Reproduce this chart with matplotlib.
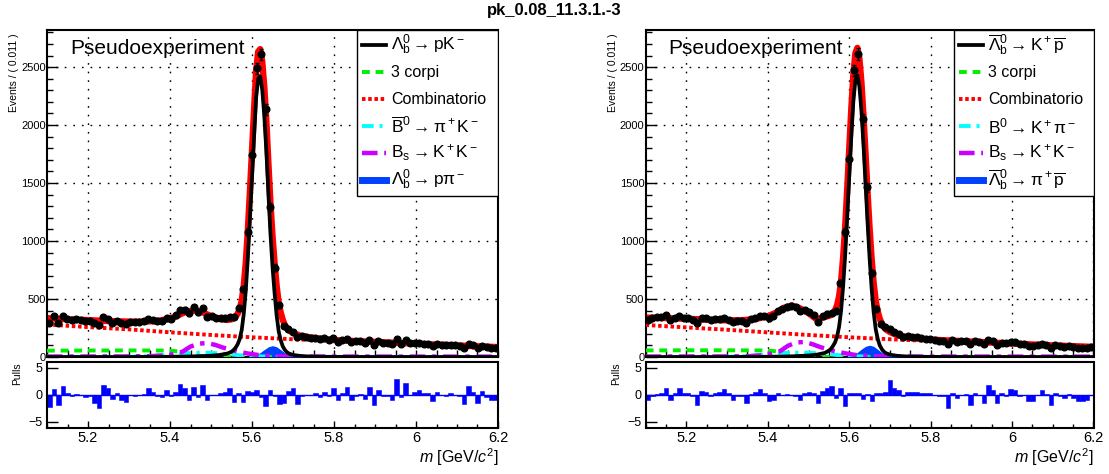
import numpy as np
import matplotlib.pyplot as plt
from matplotlib.patches import Rectangle
from matplotlib.ticker import MultipleLocator

plt.rcParams['font.family'] = ['Liberation Sans', 'DejaVu Sans']
plt.rcParams['mathtext.fontset'] = 'custom'
plt.rcParams['mathtext.rm'] = 'Liberation Sans'
plt.rcParams['mathtext.it'] = 'Liberation Sans:italic'
plt.rcParams['mathtext.bf'] = 'Liberation Sans:bold'

# binning: 100 bins of 0.011 GeV between 5.1 and 6.2
m_lo, m_hi, n_bins = 5.1, 6.2, 100
bin_w = (m_hi - m_lo) / n_bins
bin_centers = m_lo + bin_w * (np.arange(n_bins) + 0.5)

# ---------------- data ----------------
data_pk = [292, 351, 295, 356, 332, 320, 324, 321, 310, 312, 289, 272, 344, 331, 295, 313, 289, 283, 305, 300,
           305, 308, 327, 319, 307, 309, 338, 328, 359, 405, 409, 376, 430, 385, 419, 349, 350, 338, 334, 333,
           341, 345, 420, 583, 1077, 1741, 2488, 2609, 2135, 1293, 770, 448, 267, 240, 215, 172, 177, 173, 167, 168,
           153, 161, 146, 163, 132, 147, 157, 126, 134, 136, 124, 148, 107, 137, 124, 123, 112, 155, 115, 143,
           117, 120, 123, 115, 114, 96, 114, 106, 102, 107, 101, 97, 79, 113, 100, 78, 98, 84, 80, 77]
pulls_pk = [-2.3, 1.1, -1.9, 1.6, 0.4, -0.2, 0.1, 0.0, -0.5, -0.3, -1.5, -2.4, 1.8, 1.2, -0.8, 0.3, -1.0, -1.3, 0.0, -0.3,
            0.0, 0.2, 1.2, 0.6, -0.3, -0.5, 0.8, -0.3, 0.5, 2.0, 1.2, -1.0, 1.4, -0.5, 1.8, -1.0, 0.0, 0.0, 0.4, 0.6,
            1.2, -1.3, 0.4, -1.3, 0.7, 0.5, 0.9, -0.5, -2.1, 0.8, -0.2, -1.7, -1.5, 0.7, 1.3, -1.8, -0.2, 0.0, 0.0, 0.4,
            -0.5, 0.6, -0.3, 1.3, -1.0, 0.4, 1.4, -1.0, -0.2, 0.2, -0.8, 1.5, -2.0, 0.8, -0.3, -0.2, -1.0, 3.0, -0.5, 2.2,
            0.0, 0.5, 0.8, 0.3, 0.3, -1.2, 0.6, 0.0, -0.3, 0.4, 0.0, -0.2, -1.8, 1.7, 0.6, -1.6, 0.7, -0.5, -0.9, -1.0]

data_kp = [322, 334, 342, 344, 360, 317, 338, 356, 338, 334, 322, 292, 337, 333, 317, 326, 329, 334, 321, 300,
           313, 313, 293, 328, 337, 356, 351, 333, 355, 398, 415, 434, 442, 429, 398, 406, 387, 361, 301, 351,
           374, 380, 396, 640, 1077, 1704, 2471, 2614, 2049, 1465, 727, 416, 287, 262, 240, 212, 197, 174, 180, 173,
           169, 163, 158, 153, 147, 141, 139, 113, 144, 131, 136, 137, 111, 134, 130, 111, 148, 135, 107, 125,
           117, 130, 126, 111, 112, 97, 96, 106, 113, 104, 81, 101, 94, 89, 96, 86, 80, 79, 80, 88]
pulls_kp = [-1.0, -0.3, 0.2, 0.4, 1.3, -1.0, 0.3, 1.3, 0.4, 0.3, -0.3, -1.9, 0.7, 0.6, -0.2, 0.4, 0.6, 1.0, 0.3, -0.9,
            -0.2, -0.3, -1.5, 0.2, 0.5, 1.1, 0.3, -1.2, -0.9, 0.3, 0.0, 0.1, 0.0, -0.2, -1.0, 0.4, 0.6, 0.3, -1.5, 0.7,
            1.3, 1.6, -0.6, 1.3, -2.1, 0.4, 0.3, 0.3, -0.7, 0.2, -1.2, 0.3, 0.3, 0.6, 2.8, 1.2, 0.9, -0.3, 0.6, 0.5,
            0.5, 0.4, 0.3, 0.3, 0.0, -0.3, -0.3, -2.4, 0.3, -0.6, 0.0, 0.2, -1.9, 0.3, 0.0, -1.5, 1.9, 0.9, -1.5, 0.3,
            -0.3, 1.1, 0.9, -0.3, 0.0, -1.2, -1.2, 0.0, 0.9, 0.2, -1.9, 0.3, -0.3, -0.6, 0.2, -0.6, -1.2, -1.2, -1.0, 0.0]

# ---------------- fit curves ----------------
x_curve = np.concatenate([[5.10, 5.15, 5.20, 5.25, 5.30, 5.34, 5.37, 5.40, 5.42, 5.44, 5.46, 5.48, 5.50, 5.52, 5.54],
                          np.round(np.arange(5.55, 5.6901, 0.005), 3),
                          [5.70, 5.72, 5.75, 5.80, 5.90, 6.00, 6.10, 6.20]])

total_pk = [335, 325, 318, 310, 305, 305, 312, 330, 360, 392, 402, 385, 352, 328, 320,
            325, 334, 348, 373, 413, 486, 620, 820, 1102, 1431, 1778, 2129, 2463, 2633, 2655, 2546, 2329, 2033,
            1670, 1328, 1045, 813, 616, 471, 385, 320, 277, 249, 230,
            208, 180, 165, 146, 130, 115, 100, 85]
signal_pk = [0, 0, 0, 0, 0, 1, 1, 2, 3, 4, 6, 8, 11, 17, 30,
             45, 60, 80, 110, 155, 235, 375, 580, 867, 1200, 1550, 1900, 2233, 2401, 2420, 2304, 2079, 1778,
             1410, 1065, 780, 553, 361, 223, 145, 92, 62, 42, 30,
             18, 8, 3, 1, 0, 0, 0, 0]
total_kp = [340, 336, 330, 322, 316, 318, 328, 352, 382, 425, 443, 418, 378, 325, 345,
            355, 362, 380, 402, 445, 522, 655, 859, 1123, 1449, 1795, 2134, 2432, 2619, 2666, 2570, 2365, 2080,
            1755, 1418, 1110, 846, 637, 485, 393, 329, 288, 259, 238,
            215, 185, 168, 150, 133, 116, 100, 87]
signal_kp = [0, 0, 0, 0, 0, 1, 1, 2, 3, 4, 6, 9, 13, 20, 35,
             55, 70, 95, 125, 175, 260, 400, 610, 880, 1210, 1560, 1900, 2200, 2385, 2430, 2330, 2120, 1830,
             1500, 1160, 850, 590, 385, 240, 155, 100, 68, 46, 33,
             20, 9, 3, 1, 0, 0, 0, 0]

x_comb = [5.1, 5.2, 5.3, 5.4, 5.5, 5.6, 5.7, 5.8, 5.9, 6.0, 6.1, 6.2]
comb_pk = [280, 258, 238, 213, 190, 170, 153, 138, 125, 112, 100, 90]
comb_kp = [276, 255, 235, 212, 190, 170, 153, 138, 125, 112, 100, 90]

x_corpi = [5.10, 5.20, 5.30, 5.38, 5.41, 5.43, 5.45, 5.47, 5.50, 5.55, 6.20]
corpi_pk = [55, 56, 57, 56, 52, 42, 25, 10, 2, 0, 0]
corpi_kp = [57, 58, 58, 57, 53, 44, 27, 11, 2, 0, 0]

x_b0 = [5.10, 5.30, 5.35, 5.40, 5.44, 5.48, 5.52, 5.56, 5.60, 5.65, 5.75, 6.20]
b0_pk = [0, 2, 8, 20, 32, 38, 32, 18, 8, 3, 1, 0]
b0_kp = [0, 2, 9, 22, 34, 39, 33, 20, 9, 3, 1, 0]

x_bs = [5.10, 5.30, 5.36, 5.40, 5.43, 5.45, 5.47, 5.49, 5.51, 5.53, 5.56, 5.59, 5.62, 5.66, 5.75, 6.20]
bs_pk = [4, 5, 8, 18, 45, 90, 115, 120, 105, 80, 52, 30, 15, 7, 4, 3]
bs_kp = [4, 5, 8, 20, 50, 98, 125, 130, 110, 84, 54, 32, 15, 7, 4, 3]

x_lb = [5.58, 5.59, 5.60, 5.61, 5.62, 5.63, 5.64, 5.65, 5.66, 5.67, 5.68, 5.69, 5.70, 5.72, 5.75]
lb_pk = [0, 3, 7, 18, 38, 64, 88, 98, 88, 63, 36, 17, 8, 2, 0]
lb_kp = [0, 3, 8, 20, 40, 68, 92, 102, 92, 66, 38, 18, 8, 2, 0]

labels_pk = [r'$\mathrm{\Lambda_b^0 \rightarrow pK^-}$', '3 corpi', 'Combinatorio',
             r'$\mathrm{\overline{B}^0 \rightarrow \pi^+K^-}$', r'$\mathrm{B_s \rightarrow K^+K^-}$',
             r'$\mathrm{\Lambda_b^0 \rightarrow p\pi^-}$']
labels_kp = [r'$\mathrm{\overline{\Lambda}_b^0 \rightarrow K^+\overline{p}}$', '3 corpi', 'Combinatorio',
             r'$\mathrm{B^0 \rightarrow K^+\pi^-}$', r'$\mathrm{B_s \rightarrow K^+K^-}$',
             r'$\mathrm{\overline{\Lambda}_b^0 \rightarrow \pi^+\overline{p}}$']

W, H = 1109, 474
fig = plt.figure(figsize=(W / 100, H / 100), dpi=100)

styles = [dict(color='black', lw=2.7, ls='-'),
          dict(color='#00ee00', lw=2.8, ls=(0, (2, 1.5))),
          dict(color='#ff0000', lw=2.8, ls=(0, (0.9, 0.7))),
          dict(color='#00ffff', lw=2.8, ls=(0, (3, 1.5, 0.8, 1.5))),
          dict(color='#cc00ff', lw=3.2, ls=(0, (3.5, 1.5, 1, 1.5))),
          dict(color='#0040ff', lw=5.0, ls='-')]


def draw_panel(px_left, px_right, px_legend, data, pulls, total, signal, comb, corpi, b0, bs, lb, labels):
    left = px_left / W
    width = (px_right - px_left) / W
    ax = fig.add_axes([left, 1 - 357 / H, width, 327 / H])
    axp = fig.add_axes([left, 1 - 428 / H, width, 66.5 / H])

    ax.plot(x_curve, total, color='#ff0000', lw=4.6, zorder=2, solid_capstyle='butt')
    ax.fill_between(x_lb, 0, lb, color=styles[5]['color'], lw=0, zorder=3)
    ax.plot(x_corpi, corpi, zorder=3, **styles[1])
    ax.plot(x_comb, comb, zorder=3, **styles[2])
    ax.plot(x_b0, b0, zorder=3, **styles[3])
    ax.plot(x_bs, bs, zorder=3, **styles[4])
    ax.plot(x_curve, signal, zorder=4, **styles[0])
    data = np.array(data, dtype=float)
    ax.errorbar(bin_centers, data, yerr=np.sqrt(data), fmt='o', color='black', ms=4.8,
                elinewidth=1, capsize=1.5, zorder=5)

    ax.set_xlim(m_lo, m_hi)
    ax.set_ylim(0, 2820)
    ax.xaxis.set_major_locator(MultipleLocator(0.2))
    ax.xaxis.set_minor_locator(MultipleLocator(0.05))
    ax.yaxis.set_major_locator(MultipleLocator(500))
    ax.yaxis.set_minor_locator(MultipleLocator(100))
    ax.tick_params(axis='both', which='major', direction='in', length=8, width=1, labelsize=8, pad=1)
    ax.tick_params(axis='both', which='minor', direction='in', length=4, width=1)
    ax.tick_params(axis='x', which='both', labelbottom=False, length=5)
    ax.grid(True, which='major', color='black', lw=1.0, ls=(0, (1.2, 5)))
    ax.set_axisbelow(True)
    for sp in ax.spines.values():
        sp.set_linewidth(1.5)

    # legend box drawn by hand
    fx = lambda px: (px - px_left) / (px_right - px_left)
    box_x0 = fx(px_legend)
    box_y0 = (357 - 196) / 327
    ax.add_patch(Rectangle((box_x0, box_y0), 1 - box_x0, 1 - box_y0, transform=ax.transAxes,
                           facecolor='white', edgecolor='black', lw=1.0, zorder=10))
    rows_px = [45, 72, 99, 126, 153, 180]
    for st, lab, ry in zip(styles, labels, rows_px):
        yy = (357 - ry) / 327
        ax.plot([fx(px_legend + 5), fx(px_legend + 29)], [yy, yy], transform=ax.transAxes,
                zorder=11, clip_on=False, **st)
        size = 12.5 if lab.startswith('$') else 11.5
        ax.text(fx(px_legend + 34), yy, lab, transform=ax.transAxes, fontsize=size,
                va='center', ha='left', zorder=11)

    ax.text(fx(px_left + 23), (357 - 49) / 327, 'Pseudoexperiment', transform=ax.transAxes,
            fontsize=15, va='center', ha='left', zorder=6)

    # pulls
    axp.bar(bin_centers, pulls, width=bin_w, color='#0000ff', edgecolor='#0000ff', lw=0.4)
    axp.axhline(0, color='#0000ff', lw=1)
    axp.set_xlim(m_lo, m_hi)
    axp.set_ylim(-6.2, 6.2)
    axp.set_yticks([-5, 0, 5])
    axp.set_xticks([5.2, 5.4, 5.6, 5.8, 6.0, 6.2])
    axp.set_xticklabels(['5.2', '5.4', '5.6', '5.8', '6', '6.2'])
    axp.xaxis.set_minor_locator(MultipleLocator(0.05))
    axp.tick_params(axis='x', which='major', direction='in', length=5, width=1, labelsize=10.5, pad=2)
    axp.tick_params(axis='x', which='minor', direction='in', length=3, width=1)
    axp.tick_params(axis='y', which='major', direction='in', length=8, width=1, labelsize=9, pad=3)
    for sp in axp.spines.values():
        sp.set_linewidth(1.5)

    fig.text((px_left - 33) / W, 1 - 33 / H, 'Events / ( 0.011 )', rotation=90, fontsize=7.5,
             ha='center', va='top')
    fig.text((px_left - 30) / W, 1 - 374 / H, 'Pulls', rotation=90, fontsize=7.5,
             ha='center', va='center')
    fig.text(px_right / W, 1 - 457 / H, r'$m$ [GeV/$c^2$]', fontsize=11.5, ha='right', va='center')


draw_panel(47, 498, 357, data_pk, pulls_pk, total_pk, signal_pk, comb_pk, corpi_pk, b0_pk, bs_pk, lb_pk, labels_pk)
draw_panel(645.7, 1093.5, 954, data_kp, pulls_kp, total_kp, signal_kp, comb_kp, corpi_kp, b0_kp, bs_kp, lb_kp,
           labels_kp)

fig.text(0.5, 1 - 11 / H, 'pk_0.08_11.3.1.-3', fontsize=12, fontweight='bold', ha='center', va='center')

fig.savefig('out.png', dpi=100)
